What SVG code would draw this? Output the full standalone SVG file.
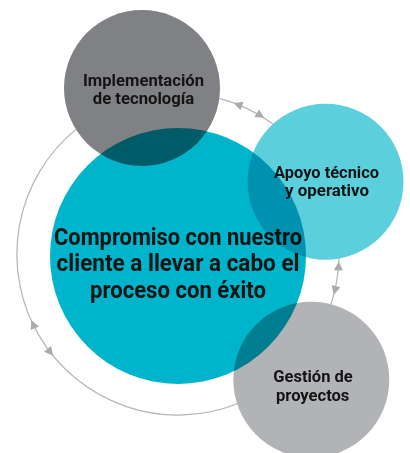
<svg xmlns="http://www.w3.org/2000/svg" width="410" height="453" viewBox="0 0 410 453">
<defs>
<style>
.c{mix-blend-mode:multiply}
.t{font-family:Roboto,"DejaVu Sans",sans-serif;font-weight:700;fill:#141414;text-anchor:middle}
.s{font-size:16.5px}
.m{font-size:23px}
.ring{fill:none;stroke:#b3b4b7;stroke-width:1.2}
.tips{fill:none;stroke:none;marker-start:url(#ah);marker-end:url(#ah)}
</style>
<marker id="ah" viewBox="0 0 10 10" refX="10" refY="5" markerWidth="10" markerHeight="9" markerUnits="userSpaceOnUse" orient="auto-start-reverse"><path d="M0,0 L10,5 L0,10 z" fill="#a9abae"/></marker>
</defs>
<rect width="410" height="453" fill="#fff"/>
<g id="connectors">
<path class="ring" d="M219.4 98.4 A161 161 0 0 1 273.1 124.1"/>
<path class="tips" d="M233.6 102.9 A161 161 0 0 1 264.3 118.1"/>
<path class="ring" d="M338.9 258.5 A161 161 0 0 1 331.0 304.3"/>
<path class="tips" d="M338.8 261.4 A161 161 0 0 1 333.7 294.9"/>
<path class="ring" d="M237.3 403.7 A161 161 0 0 1 76.0 129.4"/>
<path class="tips" d="M53.2 355.8 A161 161 0 0 1 31.2 320.0"/>
</g>
<g id="compromiso">
<circle class="c" cx="178" cy="256" r="128" fill="#00b4cb"/>
<text class="t m" x="178" y="244.5" textLength="248" lengthAdjust="spacingAndGlyphs">Compromiso con nuestro</text>
<text class="t m" x="178" y="271" textLength="243" lengthAdjust="spacingAndGlyphs">cliente a llevar a cabo el</text>
<text class="t m" x="178" y="297.5" textLength="176" lengthAdjust="spacingAndGlyphs">proceso con éxito</text>
</g>
<g id="implementacion">
<circle class="c" cx="142" cy="88" r="78" fill="#808184"/>
<text class="t s" x="143.5" y="85.8" textLength="121" lengthAdjust="spacingAndGlyphs">Implementación</text>
<text class="t s" x="143.5" y="104.3" textLength="101.5" lengthAdjust="spacingAndGlyphs">de tecnología</text>
</g>
<g id="apoyo">
<circle class="c" cx="325.5" cy="181.7" r="78" fill="#5ccfdd"/>
<text class="t s" x="326.5" y="177.8" textLength="105" lengthAdjust="spacingAndGlyphs">Apoyo técnico</text>
<text class="t s" x="327" y="196.3" textLength="84" lengthAdjust="spacingAndGlyphs">y operativo</text>
</g>
<g id="gestion">
<circle class="c" cx="311.3" cy="379.7" r="78" fill="#b1b3b6"/>
<text class="t s" x="313" y="382" textLength="79.5" lengthAdjust="spacingAndGlyphs">Gestión de</text>
<text class="t s" x="312.7" y="400.5" textLength="73.3" lengthAdjust="spacingAndGlyphs">proyectos</text>
</g>
</svg>
